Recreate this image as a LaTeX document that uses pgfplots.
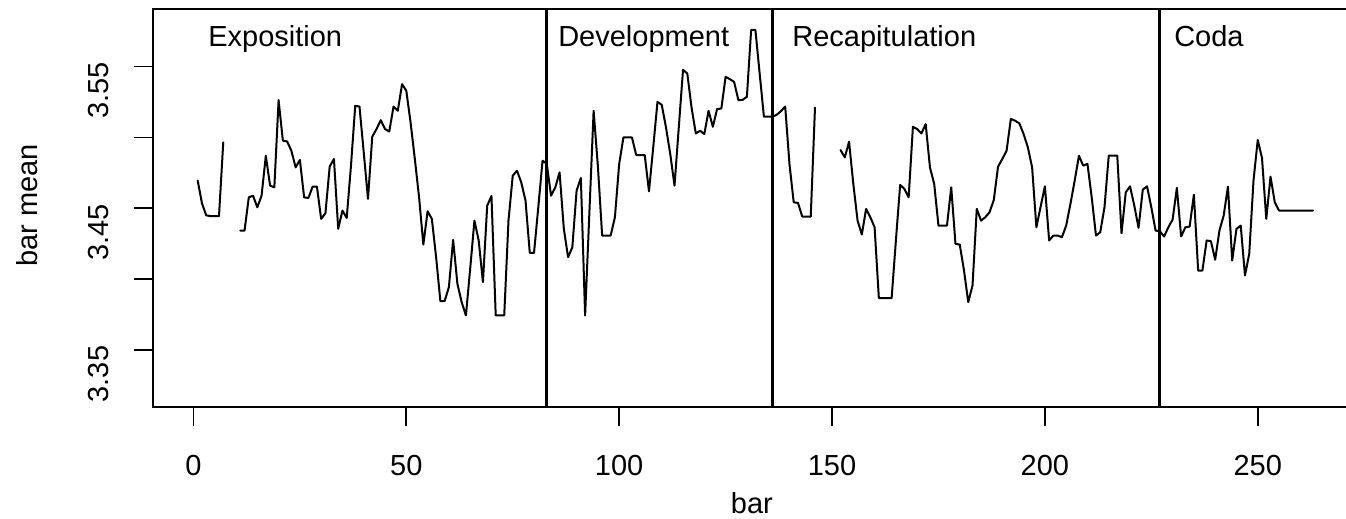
\documentclass[border=0pt]{standalone}
\usepackage{fontspec}
\setmainfont{Liberation Sans}
\usepackage{pgfplots}
\usepackage{pgfplotstable}
\pgfplotsset{compat=1.18}
\pgfplotstableread{
x y
1 3.4695
2 3.4535
3 3.4450
4 3.4445
5 3.4445
6 3.4445
7 3.4965
8 nan
9 nan
10 nan
11 3.4343
12 3.4343
13 3.4577
14 3.4589
15 3.4507
16 3.4589
17 3.4871
18 3.4660
19 3.4648
20 3.5263
21 3.4977
22 3.4972
23 3.4906
24 3.4789
25 3.4841
26 3.4577
27 3.4573
28 3.4653
29 3.4653
30 3.4425
31 3.4465
32 3.4794
33 3.4848
34 3.4355
35 3.4484
36 3.4432
37 3.4800
38 3.5223
39 3.5218
40 3.4894
41 3.4566
42 3.5005
43 3.5059
44 3.5122
45 3.5059
46 3.5042
47 3.5218
48 3.5188
49 3.5376
50 3.5329
51 3.5106
52 3.4848
53 3.4577
54 3.4244
55 3.4479
56 3.4425
57 3.4155
58 3.3845
59 3.3845
60 3.3944
61 3.4277
62 3.3967
63 3.3838
64 3.3744
65 3.4073
66 3.4413
67 3.4273
68 3.3979
69 3.4519
70 3.4587
71 3.3744
72 3.3744
73 3.3744
74 3.4413
75 3.4730
76 3.4765
77 3.4683
78 3.4554
79 3.4186
80 3.4186
81 3.4507
82 3.4836
83 3.4813
84 3.4589
85 3.4648
86 3.4754
87 3.4355
88 3.4155
89 3.4225
90 3.4625
91 3.4714
92 3.3744
93 3.4467
94 3.5188
95 3.4796
96 3.4308
97 3.4308
98 3.4308
99 3.4437
100 3.4813
101 3.5000
102 3.5000
103 3.5000
104 3.4876
105 3.4876
106 3.4876
107 3.4620
108 3.4930
109 3.5251
110 3.5230
111 3.5070
112 3.4883
113 3.4660
114 3.5070
115 3.5477
116 3.5451
117 3.5211
118 3.5028
119 3.5047
120 3.5024
121 3.5188
122 3.5075
123 3.5200
124 3.5204
125 3.5428
126 3.5411
127 3.5392
128 3.5263
129 3.5265
130 3.5287
131 3.5758
132 3.5758
133 3.5451
134 3.5146
135 3.5146
136 3.5146
137 3.5160
138 3.5185
139 3.5218
140 3.4813
141 3.4542
142 3.4538
143 3.4442
144 3.4442
145 3.4442
146 3.5211
147 nan
148 nan
149 nan
150 nan
151 nan
152 3.4911
153 3.4859
154 3.4970
155 3.4672
156 3.4413
157 3.4315
158 3.4496
159 3.4437
160 3.4366
161 3.3866
162 3.3866
163 3.3866
164 3.3866
165 3.4273
166 3.4665
167 3.4637
168 3.4577
169 3.5075
170 3.5059
171 3.5028
172 3.5094
173 3.4789
174 3.4672
175 3.4378
176 3.4378
177 3.4378
178 3.4648
179 3.4249
180 3.4244
181 3.4061
182 3.3838
183 3.3956
184 3.4496
185 3.4413
186 3.4437
187 3.4472
188 3.4559
189 3.4794
190 3.4848
191 3.4906
192 3.5130
193 3.5118
194 3.5099
195 3.5024
196 3.4930
197 3.4789
198 3.4366
199 3.4512
200 3.4655
201 3.4273
202 3.4308
203 3.4308
204 3.4296
205 3.4378
206 3.4531
207 3.4695
208 3.4871
209 3.4801
210 3.4813
211 3.4577
212 3.4308
213 3.4331
214 3.4507
215 3.4871
216 3.4871
217 3.4871
218 3.4324
219 3.4613
220 3.4655
221 3.4519
222 3.4362
223 3.4632
224 3.4655
225 3.4507
226 3.4343
227 3.4338
228 3.4301
229 3.4366
230 3.4420
231 3.4644
232 3.4301
233 3.4366
234 3.4371
235 3.4596
236 3.4061
237 3.4061
238 3.4273
239 3.4268
240 3.4137
241 3.4343
242 3.4449
243 3.4653
244 3.4132
245 3.4355
246 3.4378
247 3.4026
248 3.4179
249 3.4695
250 3.4982
251 3.4855
252 3.4425
253 3.4723
254 3.4542
255 3.4484
256 3.4484
257 3.4484
258 3.4484
259 3.4484
260 3.4484
261 3.4484
262 3.4484
263 3.4484
}\barmeans
\begin{document}
\begin{tikzpicture}[font=\fontsize{14.5pt}{17pt}\selectfont]
\begin{axis}[
  scale only axis, width=596.45pt, height=199pt,
  xmin=-9.48, xmax=270.73, ymin=3.3096, ymax=3.5904,
  axis lines*=left, axis line style={draw=none},
  tick align=outside, major tick length=9.5pt,
  tick style={line width=0.9pt, black},
  xtick={0,50,100,150,200,250},
  xticklabels={0,50,100,150,200,250},
  ytick={3.35,3.40,3.45,3.50,3.55},
  yticklabels={3.35,,3.45,,3.55},
  xticklabel style={anchor=north, inner sep=0pt, yshift=-14.5pt},
  yticklabel style={rotate=90, anchor=south, inner sep=0pt, xshift=-12pt, yshift=12.5pt},
  xlabel={bar}, ylabel={bar mean},
  xlabel style={at={(axis description cs:0.502,-0.2405)}, anchor=center},
  ylabel style={at={(axis description cs:-0.1057,0.508)}, anchor=center, rotate=0},
  unbounded coords=jump,
  clip=false,
]
\addplot[black, line width=1pt, line join=round, line cap=round] table[x=x, y=y] {\barmeans};
\addplot[black, line width=1.6pt] coordinates {(83,3.3096) (83,3.5904)};
\addplot[black, line width=1.6pt] coordinates {(136,3.3096) (136,3.5904)};
\addplot[black, line width=1.6pt] coordinates {(227,3.3096) (227,3.5904)};
\draw[line width=1pt, line cap=rect] (rel axis cs:1,0) -- (rel axis cs:0,0) -- (rel axis cs:0,1) -- (rel axis cs:1,1);
\node[anchor=base west, inner sep=0pt] at (axis cs:3.4,3.5641) {Exposition};
\node[anchor=base west, inner sep=0pt] at (axis cs:85.6,3.5641) {Development};
\node[anchor=base west, inner sep=0pt] at (axis cs:140.6,3.5641) {Recapitulation};
\node[anchor=base west, inner sep=0pt] at (axis cs:230.3,3.5641) {Coda};
\end{axis}
\pgfresetboundingbox
\path (-76.55pt,-55.85pt) rectangle (596.45pt,203.65pt);
\end{tikzpicture}
\end{document}
